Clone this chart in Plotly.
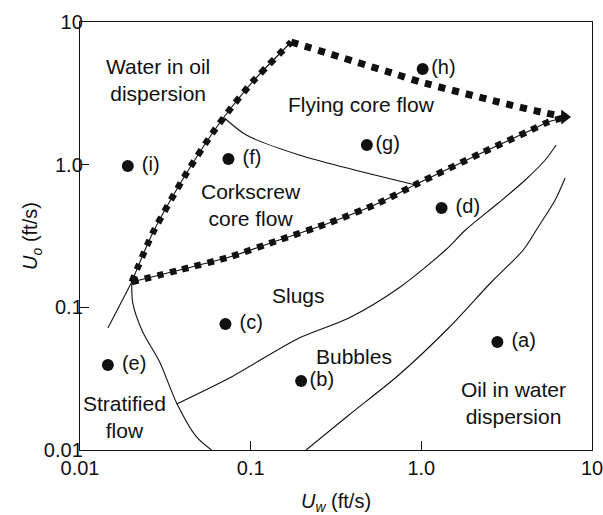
import numpy as np
import plotly.graph_objects as go

# ---- data (ft/s) ----
# thick square-dotted boundaries
left_x = [0.02011, 0.02667, 0.04212, 0.05975, 0.07508, 0.1023, 0.1728]
left_y = [0.1505, 0.3320, 0.8742, 1.667, 2.416, 3.796, 7.240]

top_x = [0.1728, 0.6713, 0.9910, 2.828, 5.317, 7.052]
top_y = [7.240, 4.389, 3.796, 2.750, 2.302, 2.159]

bottom_x = [0.02011, 0.03836, 0.07508, 0.1470, 0.2878, 0.5636, 0.9647, 2.250, 4.406, 5.535, 7.052]
bottom_y = [0.1505, 0.1827, 0.2253, 0.2965, 0.3902, 0.5386, 0.7438, 1.207, 1.750, 1.991, 2.159]

arrow_x = [6.9]
arrow_y = [2.159]

# thin boundaries
flying_x = [0.07019, 0.09434, 0.1924, 0.9268]
flying_y = [2.124, 1.614, 1.169, 0.7202]

slug_x = [0.03683, 0.07508, 0.1924, 0.3766, 0.7374, 1.387, 1.815, 2.828, 4.064, 5.317, 6.165]
slug_y = [0.02101, 0.03196, 0.06098, 0.08420, 0.1366, 0.2522, 0.3484, 0.5386, 0.7809, 1.078, 1.374]

bubble_x = [0.2113, 0.3766, 0.7374, 1.444, 2.574, 3.956, 4.840, 6.083, 6.957]
bubble_y = [0.01, 0.01759, 0.03355, 0.07164, 0.1505, 0.2522, 0.3658, 0.5655, 0.8065]

strat_x = [0.02011, 0.02038, 0.02332, 0.02930, 0.03683, 0.04818, 0.05894]
strat_y = [0.1505, 0.1072, 0.06718, 0.04139, 0.02135, 0.01234, 0.01]

stub_x = [0.02011, 0.01457]
stub_y = [0.1505, 0.07164]

# experimental points
pt_labels = ["(a)", "(b)", "(c)", "(d)", "(e)", "(f)", "(g)", "(h)", "(i)"]
pt_x = [2.790, 0.1975, 0.07115, 1.314, 0.01457, 0.07408, 0.4797, 1.018, 0.01906]
pt_y = [0.05715, 0.03046, 0.07641, 0.4969, 0.03943, 1.096, 1.374, 4.684, 0.9788]

# region labels
region_text = ["Water in oil<br>dispersion", "Flying core flow", "Corkscrew<br>core flow",
               "Slugs", "Bubbles", "Oil in water<br>dispersion", "Stratified<br>flow"]
region_x = [0.02852, 0.4485, 0.1009, 0.1898, 0.4029, 3.459, 0.01830]
region_y = [3.923, 2.620, 0.5215, 0.1201, 0.0450, 0.02135, 0.01703]

tick_vals = [0.01, 0.1, 1, 10]
tick_text = ["0.01", "0.1", "1.0", "10"]

FONT = "Liberation Sans, Arial, Helvetica, sans-serif"
FS = 20
FS_REGION = 21
BLACK = "#111111"

fig = go.Figure()

def thin(x, y, shape="spline"):
    fig.add_trace(go.Scatter(x=x, y=y, mode="lines", showlegend=False, hoverinfo="skip",
                             line=dict(color=BLACK, width=1.1, shape=shape, smoothing=0.8)))

def squares(x, y, w=7, dash="7px,7px"):
    fig.add_trace(go.Scatter(x=x, y=y, mode="lines", showlegend=False, hoverinfo="skip",
                             line=dict(color=BLACK, width=w, dash=dash, shape="spline", smoothing=0.6)))

# thin lines
thin(left_x, left_y)
thin(bottom_x, bottom_y)
thin(flying_x, flying_y)
thin(slug_x, slug_y)
thin(bubble_x, bubble_y)
thin(strat_x, strat_y)
thin(stub_x, stub_y, shape="linear")

# square-dotted boundaries
squares(left_x, left_y, 6.5, "6.5px,6.5px")
squares(bottom_x, bottom_y, 6.5, "6.5px,6.5px")
squares(top_x, top_y, 7, "7px,7px")

fig.add_trace(go.Scatter(x=arrow_x, y=arrow_y, mode="markers", showlegend=False, hoverinfo="skip",
                         marker=dict(symbol="triangle-right", size=13, color=BLACK)))

# points
fig.add_trace(go.Scatter(x=pt_x, y=pt_y, mode="markers+text", showlegend=False,
                         text=[" " + t if t not in ("(g)", "(h)", "(b)") else t for t in pt_labels],
                         textposition="middle right",
                         textfont=dict(family=FONT, size=FS, color=BLACK),
                         marker=dict(symbol="circle", size=12, color=BLACK)))

for t, x, y in zip(region_text, region_x, region_y):
    fig.add_annotation(x=np.log10(x), y=np.log10(y), xref="x", yref="y", text=t,
                       showarrow=False, font=dict(family=FONT, size=FS_REGION, color=BLACK),
                       align="center")

axis_common = dict(type="log", range=[-2, 1], tickvals=tick_vals, ticktext=tick_text,
                   ticks="inside", ticklen=9, tickwidth=1.1, tickcolor=BLACK,
                   showline=True, linecolor=BLACK, linewidth=1.4, mirror=True,
                   showgrid=False, zeroline=False, ticklabeloverflow="allow",
                   tickfont=dict(family=FONT, size=FS, color=BLACK))

fig.update_xaxes(**axis_common,
                 title=dict(text="<i>U</i><sub><i>w</i></sub> (ft/s)",
                            font=dict(family=FONT, size=FS, color=BLACK), standoff=29),
                 ticklabelstandoff=0)
fig.update_yaxes(**axis_common,
                 title=dict(text="<i>U</i><sub><i>o</i></sub> (ft/s)",
                            font=dict(family=FONT, size=FS, color=BLACK), standoff=0),
                 ticklabelstandoff=-8)

fig.update_layout(width=603, height=515, margin=dict(l=80, r=11, t=22, b=65, autoexpand=False),
                  plot_bgcolor="white", paper_bgcolor="white",
                  font=dict(family=FONT, size=FS, color=BLACK))

fig.write_html("out.html", config={"displayModeBar": False})

# remove the browser's default page margin so the figure sits at the window's corner
with open("out.html", "r", encoding="utf-8") as fh:
    html = fh.read()
html = html.replace("<head>", "<head><style>html,body{margin:0;padding:0;overflow:hidden;}</style>", 1)
with open("out.html", "w", encoding="utf-8") as fh:
    fh.write(html)
